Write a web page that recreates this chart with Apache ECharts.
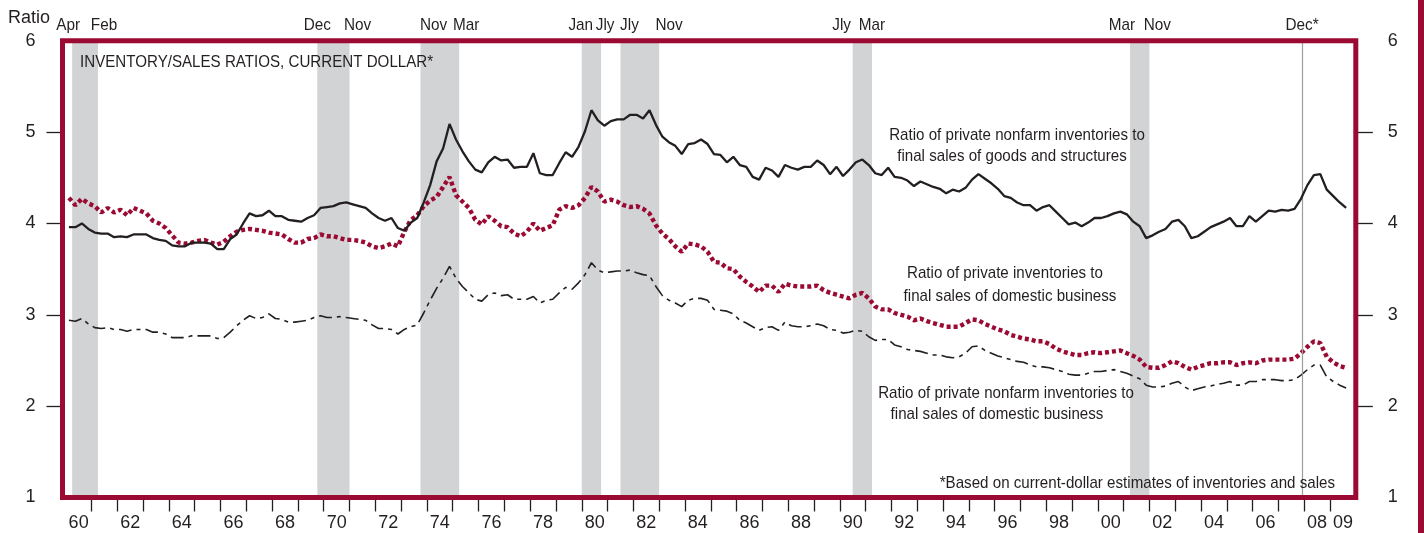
<!DOCTYPE html>
<html><head><meta charset="utf-8">
<script src="https://cdn.jsdelivr.net/npm/echarts@6/dist/echarts.min.js"></script>
<style>html,body{margin:0;padding:0;background:#fff}#c{width:1424px;height:533px}</style>
</head><body><div id="c"></div><script>
// ---- DATA (quarterly, first observation 1960 Q1) ----
const firstYear = 1960;
const goodsStructures = [
3.96,3.96,4.00,3.94,3.90,3.89,3.89,3.85,3.86,3.85,3.88,3.88,3.88,3.84,3.82,3.81,3.76,3.75,3.75,3.79,3.79,3.79,3.78,3.72,3.72,3.83,3.88,4.00,4.11,4.08,4.09,4.14,4.08,
4.08,4.04,4.03,4.02,4.06,4.09,4.17,4.18,4.19,4.22,4.23,4.21,4.19,4.17,4.11,4.06,4.03,4.06,3.95,3.92,4.01,4.06,4.23,4.42,4.68,4.82,5.09,4.92,4.79,4.68,4.59,4.56,4.67,4.73,
4.69,4.70,4.61,4.62,4.62,4.77,4.55,4.53,4.53,4.66,4.78,4.73,4.84,5.01,5.24,5.13,5.07,5.12,5.14,5.14,5.19,5.19,5.15,5.24,5.08,4.95,4.89,4.85,4.76,4.87,4.88,4.92,4.87,4.76,
4.75,4.67,4.73,4.64,4.62,4.51,4.48,4.61,4.58,4.51,4.64,4.61,4.59,4.62,4.62,4.69,4.64,4.54,4.62,4.52,4.59,4.67,4.70,4.64,4.55,4.53,4.61,4.51,4.50,4.47,4.41,4.46,4.43,4.40,
4.38,4.33,4.37,4.35,4.39,4.48,4.54,4.49,4.44,4.38,4.30,4.28,4.23,4.20,4.20,4.14,4.18,4.20,4.13,4.06,3.99,4.01,3.97,4.01,4.06,4.06,4.08,4.11,4.13,4.10,4.02,3.97,
3.84,3.87,3.91,3.94,4.02,4.04,3.97,3.84,3.86,3.91,3.96,3.99,4.02,4.06,3.97,3.97,4.08,4.02,4.08,4.14,4.13,4.15,4.14,4.16,4.27,4.42,4.53,4.54,4.37,4.30,4.23,4.17];
const privateDomestic = [
4.28,4.20,4.27,4.22,4.19,4.12,4.17,4.12,4.15,4.09,4.17,4.14,4.11,4.03,4.00,3.95,3.87,3.79,3.78,3.79,3.81,3.82,3.79,3.77,3.80,3.86,3.91,3.93,3.94,3.93,3.92,3.90,3.89,
3.88,3.83,3.79,3.79,3.83,3.84,3.88,3.86,3.86,3.84,3.82,3.82,3.81,3.79,3.75,3.73,3.75,3.78,3.75,3.91,4.04,4.09,4.19,4.25,4.29,4.40,4.51,4.31,4.24,4.17,4.04,3.99,4.08,4.03,
3.97,3.96,3.89,3.86,3.91,4.00,3.92,3.95,3.98,4.15,4.19,4.17,4.20,4.28,4.40,4.35,4.24,4.26,4.24,4.20,4.18,4.19,4.16,4.11,3.98,3.89,3.83,3.75,3.69,3.78,3.77,3.75,3.69,3.58,
3.57,3.51,3.50,3.42,3.36,3.31,3.25,3.32,3.32,3.25,3.34,3.32,3.31,3.31,3.31,3.32,3.27,3.24,3.22,3.20,3.18,3.22,3.24,3.18,3.09,3.06,3.06,3.02,3.00,2.98,2.94,2.96,2.93,2.91,
2.89,2.87,2.87,2.87,2.91,2.95,2.94,2.90,2.87,2.84,2.82,2.78,2.76,2.74,2.73,2.71,2.71,2.68,2.63,2.60,2.58,2.56,2.56,2.58,2.59,2.58,2.59,2.60,2.61,2.58,2.55,2.51,
2.43,2.42,2.42,2.45,2.49,2.47,2.43,2.40,2.43,2.45,2.47,2.47,2.48,2.48,2.45,2.47,2.48,2.47,2.50,2.51,2.51,2.51,2.51,2.52,2.58,2.65,2.71,2.69,2.54,2.48,2.44,2.42];
const nonfarmDomestic = [
2.94,2.93,2.96,2.90,2.86,2.85,2.86,2.84,2.84,2.82,2.84,2.84,2.84,2.81,2.81,2.79,2.75,2.75,2.75,2.77,2.77,2.77,2.77,2.74,2.75,2.81,2.88,2.94,2.99,2.96,2.97,3.01,2.96,
2.95,2.92,2.92,2.93,2.94,2.97,2.99,2.97,2.97,2.98,2.97,2.96,2.95,2.94,2.89,2.85,2.85,2.84,2.79,2.84,2.87,2.89,3.02,3.16,3.29,3.40,3.53,3.40,3.31,3.24,3.17,3.15,3.22,3.24,
3.21,3.22,3.17,3.17,3.17,3.20,3.13,3.16,3.17,3.24,3.30,3.28,3.35,3.44,3.57,3.49,3.46,3.47,3.48,3.48,3.49,3.46,3.44,3.43,3.31,3.21,3.16,3.13,3.09,3.16,3.18,3.18,3.16,3.06,
3.05,3.04,3.01,2.94,2.91,2.87,2.83,2.86,2.87,2.83,2.92,2.88,2.87,2.87,2.88,2.90,2.88,2.84,2.83,2.80,2.81,2.83,2.82,2.76,2.72,2.73,2.73,2.67,2.65,2.62,2.61,2.60,2.58,2.56,
2.56,2.54,2.53,2.54,2.58,2.65,2.66,2.61,2.58,2.55,2.53,2.51,2.49,2.48,2.45,2.43,2.43,2.42,2.40,2.38,2.35,2.34,2.34,2.36,2.38,2.38,2.39,2.40,2.38,2.36,2.33,2.30,
2.23,2.21,2.21,2.22,2.25,2.27,2.21,2.17,2.19,2.21,2.22,2.24,2.25,2.27,2.23,2.23,2.27,2.27,2.29,2.29,2.29,2.28,2.28,2.29,2.34,2.40,2.45,2.45,2.32,2.27,2.23,2.20];
// recession periods (shaded), in fractional years
const recessions = [[1960.25,1961.25],[1969.75,1971.0],[1973.75,1975.25],[1980.0,1980.75],[1981.5,1983.0],[1990.5,1991.25],[2001.25,2002.0]];
const recession2007 = 2007.92;
const monthLabels = [[1960.25,'Apr'],[1961.25,'Feb'],[1969.75,'Dec'],[1971.0,'Nov'],[1973.75,'Nov'],[1975.25,'Mar'],
  [1980.0,'Jan'],[1980.75,'Jly'],[1981.5,'Jly'],[1983.0,'Nov'],[1990.5,'Jly'],[1991.25,'Mar'],[2001.25,'Mar'],[2002.0,'Nov'],[2007.92,'Dec*']];
const yTickValues = [1,2,3,4,5,6];
const yInnerTicks = [2,3,4,5];
const xTickYears = []; for (let y = 1961; y <= 2009; y++) xTickYears.push(y);
const xLabelYears = []; for (let y = 1960; y <= 2008; y += 2) xLabelYears.push(y); xLabelYears.push(2009);

// ---- CHART ----
const FONT = '"Liberation Sans",Arial,sans-serif';
const INK = '#231f20', MAROON = '#9b0a33', SHADE = '#d1d3d5';
const X_MIN = 1959.875, X_MAX = 2010;
const toPairs = arr => arr.map((v, k) => [firstYear + 0.125 + 0.25 * k, v]);

const chart = echarts.init(document.getElementById('c'), null, {renderer: 'canvas'});
const yAxisCommon = {
  type: 'value', min: 1, max: 6, interval: 1,
  axisLine: {show: false}, splitLine: {show: false},
  axisTick: {show: true, customValues: yInnerTicks, lineStyle: {color: INK, width: 1.3}},
  axisLabel: {customValues: yTickValues, color: INK, fontFamily: FONT, fontSize: 18}
};
chart.setOption({
  animation: false,
  backgroundColor: '#fff',
  grid: {left: 62.5, right: 68.2, top: 40.8, bottom: 35.5},
  xAxis: {
    type: 'value', min: X_MIN, max: X_MAX,
    axisLine: {show: false}, splitLine: {show: false},
    axisTick: {show: true, customValues: xTickYears, length: 14, lineStyle: {color: INK, width: 1.3}},
    axisLabel: {customValues: xLabelYears.map(y => y + 0.5), formatter: v => String(Math.floor(v)).slice(2),
      color: INK, fontFamily: FONT, fontSize: 18, margin: 17}
  },
  yAxis: [
    Object.assign({}, yAxisCommon, {position: 'left', axisTick: Object.assign({}, yAxisCommon.axisTick, {length: 16}),
      axisLabel: Object.assign({}, yAxisCommon.axisLabel, {margin: 27})}),
    Object.assign({}, yAxisCommon, {position: 'right', axisTick: Object.assign({}, yAxisCommon.axisTick, {length: 17}),
      axisLabel: Object.assign({}, yAxisCommon.axisLabel, {margin: 32})})
  ],
  series: [
    {type: 'line', name: 'shade', data: [], silent: true, z: 1,
      markArea: {silent: true, itemStyle: {color: SHADE}, data: recessions.map(r => [{xAxis: r[0]}, {xAxis: r[1]}])},
      markLine: {silent: true, symbol: 'none', label: {show: false}, lineStyle: {color: '#9d9d9d', width: 1.2, type: 'solid'},
        data: [{xAxis: recession2007}]}},
    {type: 'line', name: 'nonfarm domestic', data: toPairs(nonfarmDomestic), showSymbol: false, z: 3,
      lineStyle: {color: INK, width: 1.6, type: [13, 5, 4, 5]}},
    {type: 'line', name: 'private domestic', data: toPairs(privateDomestic), showSymbol: false, z: 4,
      lineStyle: {color: MAROON, width: 4.4, type: [4, 3]}},
    {type: 'line', name: 'goods structures', data: toPairs(goodsStructures), showSymbol: false, z: 5,
      lineStyle: {color: INK, width: 2.3}}
  ]
});

// frame, labels and annotations
const pBL = chart.convertToPixel({gridIndex: 0}, [X_MIN, 1]);
const pTR = chart.convertToPixel({gridIndex: 0}, [X_MAX, 6]);
const monthDx = [-4, 6, 0, 8, 13, 7, -1, 4, 9, 10, -11, 0, -8, 8, 0];
const txt = (x, y, text, align, size, sx) => ({type: 'text', z: 50, x, y, scaleX: sx || 0.89, scaleY: 1,
  style: {x: 0, y: 0, text, fill: INK, font: `${size || 17}px ${FONT}`, textAlign: align || 'left', textVerticalAlign: 'middle'}});
const graphics = [
  {type: 'rect', z: 40, shape: {x: pBL[0], y: pTR[1], width: pTR[0] - pBL[0], height: pBL[1] - pTR[1]},
    style: {fill: null, stroke: MAROON, lineWidth: 5}},
  {type: 'rect', z: 40, shape: {x: 1418, y: 0, width: 6, height: 533}, style: {fill: MAROON}},
  txt(8, 18, 'Ratio', 'left', 18, 1),
  txt(80, 62, 'INVENTORY/SALES RATIOS, CURRENT DOLLAR*', 'left', 17),
  txt(1017, 135, 'Ratio of private nonfarm inventories to', 'center'),
  txt(1012, 156, 'final sales of goods and structures', 'center'),
  txt(1005, 273, 'Ratio of private inventories to', 'center'),
  txt(1010, 296, 'final sales of domestic business', 'center'),
  txt(1006, 393, 'Ratio of private nonfarm inventories to', 'center'),
  txt(997, 414, 'final sales of domestic business', 'center'),
  txt(1335, 483, '*Based on current-dollar estimates of inventories and sales', 'right')
];
monthLabels.forEach((m, i) => {
  const px = chart.convertToPixel({xAxisIndex: 0}, m[0]);
  graphics.push(txt(px + monthDx[i], 25, m[1], 'center', 17, 0.9));
});
chart.setOption({graphic: graphics});
</script></body></html>
